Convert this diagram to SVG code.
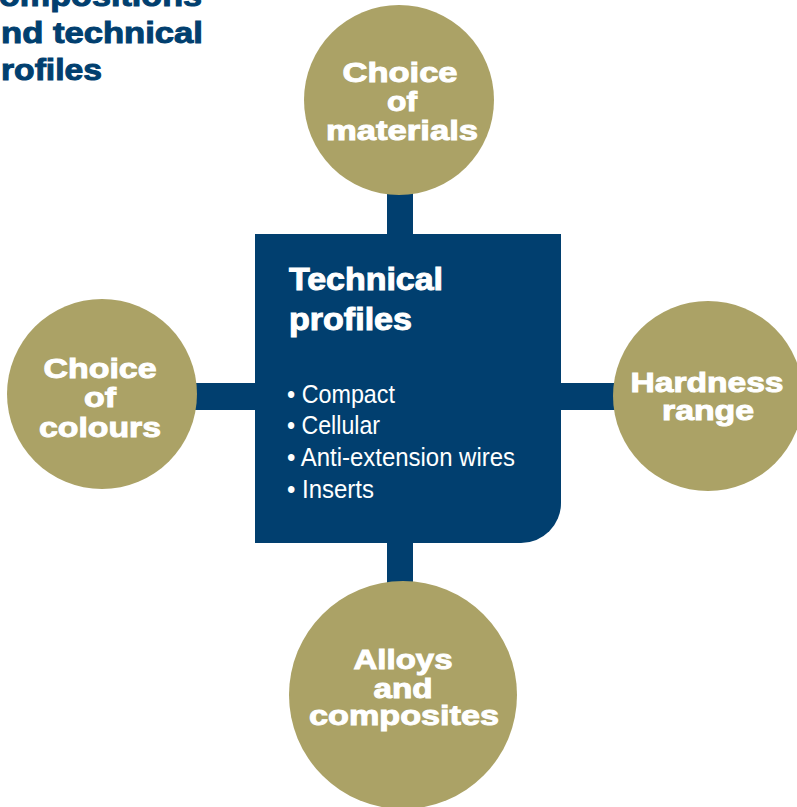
<svg xmlns="http://www.w3.org/2000/svg" width="797" height="807" viewBox="0 0 797 807">
  <style>
    .navy { fill: #013f6f; }
    .gold { fill: #aba266; }
    .ct { font-family: "Liberation Sans", Arial, sans-serif; font-weight: bold; font-size: 28px; fill: #ffffff; stroke: #ffffff; stroke-width: 1; text-anchor: middle; }
    .title { font-family: "Liberation Sans", Arial, sans-serif; font-weight: bold; font-size: 30px; fill: #013f6f; stroke: #013f6f; stroke-width: 1; }
    .head { font-family: "Liberation Sans", Arial, sans-serif; font-weight: bold; font-size: 31px; fill: #ffffff; stroke: #ffffff; stroke-width: 1; }
    .item { font-family: "Liberation Sans", Arial, sans-serif; font-size: 25px; fill: #ffffff; }
  </style>
  <rect width="797" height="807" fill="#ffffff"/>

  <g id="page-title">
    <text class="title" x="-1" y="6" textLength="203" lengthAdjust="spacingAndGlyphs">ompositions</text>
    <text class="title" x="1" y="43" textLength="202" lengthAdjust="spacingAndGlyphs">nd technical</text>
    <text class="title" x="1" y="80" textLength="101" lengthAdjust="spacingAndGlyphs">rofiles</text>
  </g>

  <g id="connectors">
    <rect class="navy" x="387" y="190" width="26" height="50"/>
    <rect class="navy" x="190" y="383" width="70" height="27"/>
    <rect class="navy" x="555" y="383" width="65" height="27"/>
    <rect class="navy" x="387" y="538" width="26" height="50"/>
  </g>

  <g id="technical-profiles">
    <path class="navy" d="M255,234 H561 V503 A40,40 0 0 1 521,543 H255 Z"/>
    <text class="head" x="289" y="290" textLength="154" lengthAdjust="spacingAndGlyphs">Technical</text>
    <text class="head" x="289" y="330" textLength="123" lengthAdjust="spacingAndGlyphs">profiles</text>
    <text class="item" x="287" y="403" textLength="108" lengthAdjust="spacingAndGlyphs">• Compact</text>
    <text class="item" x="287" y="434" textLength="93" lengthAdjust="spacingAndGlyphs">• Cellular</text>
    <text class="item" x="287" y="466" textLength="228" lengthAdjust="spacingAndGlyphs">• Anti-extension wires</text>
    <text class="item" x="287" y="498" textLength="87" lengthAdjust="spacingAndGlyphs">• Inserts</text>
  </g>

  <g id="choice-of-materials">
    <circle class="gold" cx="399" cy="100" r="95"/>
    <text class="ct" x="400" y="82" textLength="115" lengthAdjust="spacingAndGlyphs">Choice</text>
    <text class="ct" x="402" y="111" textLength="30" lengthAdjust="spacingAndGlyphs">of</text>
    <text class="ct" x="402" y="140" textLength="152" lengthAdjust="spacingAndGlyphs">materials</text>
  </g>

  <g id="choice-of-colours">
    <circle class="gold" cx="102" cy="394" r="95"/>
    <text class="ct" x="100" y="378" textLength="113" lengthAdjust="spacingAndGlyphs">Choice</text>
    <text class="ct" x="100" y="407" textLength="32" lengthAdjust="spacingAndGlyphs">of</text>
    <text class="ct" x="100" y="437" textLength="122" lengthAdjust="spacingAndGlyphs">colours</text>
  </g>

  <g id="hardness-range">
    <circle class="gold" cx="708" cy="396" r="95"/>
    <text class="ct" x="707" y="392" textLength="153" lengthAdjust="spacingAndGlyphs">Hardness</text>
    <text class="ct" x="708" y="420" textLength="92" lengthAdjust="spacingAndGlyphs">range</text>
  </g>

  <g id="alloys-and-composites">
    <circle class="gold" cx="403" cy="695" r="114"/>
    <text class="ct" x="403" y="669" textLength="99" lengthAdjust="spacingAndGlyphs">Alloys</text>
    <text class="ct" x="403" y="698" textLength="59" lengthAdjust="spacingAndGlyphs">and</text>
    <text class="ct" x="404" y="725" textLength="190" lengthAdjust="spacingAndGlyphs">composites</text>
  </g>
</svg>
